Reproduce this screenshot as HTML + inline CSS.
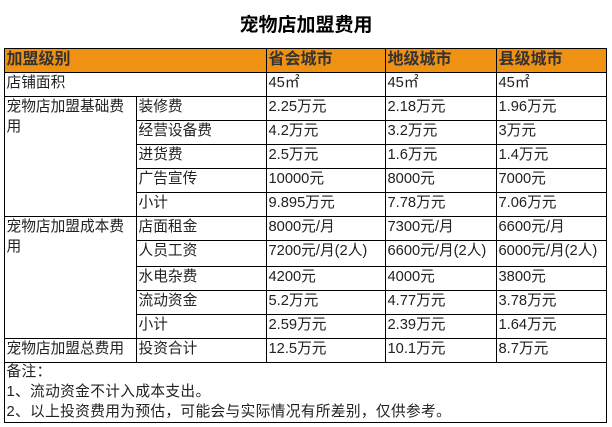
<!DOCTYPE html>
<html><head><meta charset="utf-8"><style>
html,body{margin:0;padding:0;background:#fff;}
#c{position:relative;width:612px;height:427px;overflow:hidden;background:#fff;font-family:"Liberation Sans","Noto Sans CJK SC",sans-serif;}
.h{position:absolute;height:1px;background:#000;}
.v{position:absolute;width:1px;background:#000;}
.t{position:absolute;font-size:14.7px;line-height:20px;color:#222;white-space:nowrap;}
.n{letter-spacing:0.35px;}
.hd{position:absolute;font-size:16px;line-height:20px;font-weight:bold;color:#333;white-space:nowrap;}
</style></head><body><div id="c">
<div style="position:absolute;left:0;width:612px;top:14px;text-align:center;font-size:19px;line-height:24px;font-weight:bold;color:#000;">宠物店加盟费用</div>
<div style="position:absolute;left:4px;top:48px;width:602px;height:24px;background:#EF9112;"></div>
<div class="h" style="left:4px;width:603px;top:48px"></div>
<div class="h" style="left:4px;width:603px;top:72px"></div>
<div class="h" style="left:4px;width:603px;top:96px"></div>
<div class="h" style="left:136px;width:471px;top:120px"></div>
<div class="h" style="left:136px;width:471px;top:144px"></div>
<div class="h" style="left:136px;width:471px;top:168px"></div>
<div class="h" style="left:136px;width:471px;top:192px"></div>
<div class="h" style="left:4px;width:603px;top:216px"></div>
<div class="h" style="left:136px;width:471px;top:240px"></div>
<div class="h" style="left:136px;width:471px;top:266px"></div>
<div class="h" style="left:136px;width:471px;top:290px"></div>
<div class="h" style="left:136px;width:471px;top:314px"></div>
<div class="h" style="left:4px;width:603px;top:338px"></div>
<div class="h" style="left:4px;width:603px;top:362px"></div>
<div class="h" style="left:4px;width:603px;top:422px"></div>
<div class="v" style="left:4px;top:48px;height:375px"></div>
<div class="v" style="left:606px;top:48px;height:375px"></div>
<div class="v" style="left:136px;top:96px;height:266px"></div>
<div class="v" style="left:266px;top:48px;height:314px"></div>
<div class="v" style="left:385px;top:48px;height:314px"></div>
<div class="v" style="left:496px;top:48px;height:314px"></div>

<div class="hd" style="left:6.5px;top:50px">加盟级别</div>
<div class="hd" style="left:268.5px;top:50px">省会城市</div>
<div class="hd" style="left:387.5px;top:50px">地级城市</div>
<div class="hd" style="left:498.5px;top:50px">县级城市</div>

<div class="t" style="left:6.5px;top:73px">店铺面积</div>
<div class="t" style="left:268.5px;top:73px">45㎡</div>
<div class="t" style="left:387.5px;top:73px">45㎡</div>
<div class="t" style="left:498.5px;top:73px">45㎡</div>

<div class="t" style="left:6.5px;top:97px">宠物店加盟基础费<br>用</div>
<div class="t" style="left:138.5px;top:97px">装修费</div>
<div class="t" style="left:268.5px;top:97px">2.25万元</div>
<div class="t" style="left:387.5px;top:97px">2.18万元</div>
<div class="t" style="left:498.5px;top:97px">1.96万元</div>

<div class="t" style="left:138.5px;top:121px">经营设备费</div>
<div class="t" style="left:268.5px;top:121px">4.2万元</div>
<div class="t" style="left:387.5px;top:121px">3.2万元</div>
<div class="t" style="left:498.5px;top:121px">3万元</div>

<div class="t" style="left:138.5px;top:145px">进货费</div>
<div class="t" style="left:268.5px;top:145px">2.5万元</div>
<div class="t" style="left:387.5px;top:145px">1.6万元</div>
<div class="t" style="left:498.5px;top:145px">1.4万元</div>

<div class="t" style="left:138.5px;top:169px">广告宣传</div>
<div class="t" style="left:268.5px;top:169px">10000元</div>
<div class="t" style="left:387.5px;top:169px">8000元</div>
<div class="t" style="left:498.5px;top:169px">7000元</div>

<div class="t" style="left:138.5px;top:193px">小计</div>
<div class="t" style="left:268.5px;top:193px">9.895万元</div>
<div class="t" style="left:387.5px;top:193px">7.78万元</div>
<div class="t" style="left:498.5px;top:193px">7.06万元</div>

<div class="t" style="left:6.5px;top:217px">宠物店加盟成本费<br>用</div>
<div class="t" style="left:138.5px;top:217px">店面租金</div>
<div class="t" style="left:268.5px;top:217px">8000元/月</div>
<div class="t" style="left:387.5px;top:217px">7300元/月</div>
<div class="t" style="left:498.5px;top:217px">6600元/月</div>

<div class="t" style="left:138.5px;top:241px">人员工资</div>
<div class="t" style="left:268.5px;top:241px">7200元/月(2人)</div>
<div class="t" style="left:387.5px;top:241px">6600元/月(2人)</div>
<div class="t" style="left:498.5px;top:241px">6000元/月(2人)</div>

<div class="t" style="left:138.5px;top:267px">水电杂费</div>
<div class="t" style="left:268.5px;top:267px">4200元</div>
<div class="t" style="left:387.5px;top:267px">4000元</div>
<div class="t" style="left:498.5px;top:267px">3800元</div>

<div class="t" style="left:138.5px;top:291px">流动资金</div>
<div class="t" style="left:268.5px;top:291px">5.2万元</div>
<div class="t" style="left:387.5px;top:291px">4.77万元</div>
<div class="t" style="left:498.5px;top:291px">3.78万元</div>

<div class="t" style="left:138.5px;top:315px">小计</div>
<div class="t" style="left:268.5px;top:315px">2.59万元</div>
<div class="t" style="left:387.5px;top:315px">2.39万元</div>
<div class="t" style="left:498.5px;top:315px">1.64万元</div>

<div class="t" style="left:6.5px;top:339px">宠物店加盟总费用</div>
<div class="t" style="left:138.5px;top:339px">投资合计</div>
<div class="t" style="left:268.5px;top:339px">12.5万元</div>
<div class="t" style="left:387.5px;top:339px">10.1万元</div>
<div class="t" style="left:498.5px;top:339px">8.7万元</div>

<div class="t n" style="left:6.5px;top:362px">备注：</div>
<div class="t n" style="left:6.5px;top:382px">1、流动资金不计入成本支出。</div>
<div class="t n" style="left:6.5px;top:402px">2、以上投资费用为预估，可能会与实际情况有所差别，仅供参考。</div>
</div></body></html>
